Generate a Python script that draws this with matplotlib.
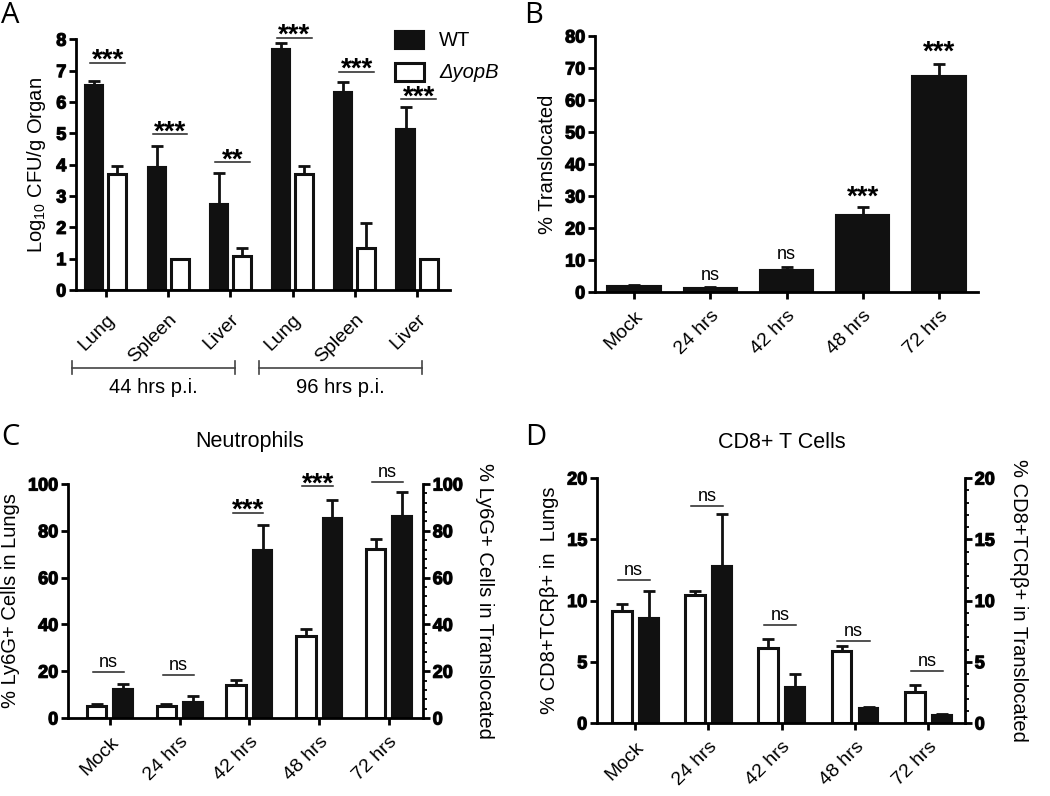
import matplotlib
matplotlib.use("Agg")
import matplotlib.pyplot as plt
import matplotlib.transforms as mtrans
import matplotlib.patheffects as pe
from matplotlib.patches import Patch
from matplotlib.ticker import MultipleLocator
from matplotlib import font_manager as fm
import numpy as np

plt.rcParams['font.family'] = ['Liberation Sans', 'DejaVu Sans']
plt.rcParams['mathtext.fontset'] = 'custom'
plt.rcParams['mathtext.rm'] = 'Liberation Sans'
plt.rcParams['mathtext.it'] = 'Liberation Sans:italic'

# pick a family that really has a bold face for the tick numbers
BOLD_FAMILY = 'DejaVu Sans'
for fam in ['Liberation Sans', 'Roboto', 'Noto Sans', 'Open Sans', 'Lato']:
    try:
        path = fm.findfont(fm.FontProperties(family=fam, weight='bold'),
                           fallback_to_default=False)
        name = path.lower()
        if fam.split()[0].lower() in name and 'bold' in name:
            BOLD_FAMILY = fam
            break
    except Exception:
        pass

# ---------------- Data ----------------
# Panel A
organs = ['Lung', 'Spleen', 'Liver', 'Lung', 'Spleen', 'Liver']
wt_mean = [6.55, 3.93, 2.75, 7.70, 6.33, 5.15]
wt_err = [0.13, 0.67, 0.97, 0.17, 0.32, 0.70]
yopb_mean = [3.70, 1.00, 1.10, 3.70, 1.33, 1.00]
yopb_err = [0.27, 0.00, 0.25, 0.27, 0.82, 0.00]
sig_a = ['***', '***', '**', '***', '***', '***']
sig_a_y = [7.25, 4.97, 4.07, 8.05, 6.97, 6.08]
groups_a = ['44 hrs p.i.', '96 hrs p.i.']

# Panel B
times = ['Mock', '24 hrs', '42 hrs', '48 hrs', '72 hrs']
trans_b = [1.8, 1.3, 7.0, 24.0, 67.5]
trans_b_err = [0.5, 0.3, 0.8, 2.6, 3.9]
sig_b = ['', 'ns', 'ns', '***', '***']
sig_b_y = [0, 5.3, 11.9, 30.6, 75.8]

# Panel C
lung_c = [5.3, 5.3, 14.0, 35.2, 72.2]
lung_c_err = [0.7, 0.7, 2.4, 2.8, 4.3]
trans_c = [12.4, 6.7, 71.7, 85.6, 86.5]
trans_c_err = [2.1, 2.8, 10.6, 7.7, 9.9]
sig_c = ['ns', 'ns', '***', '***', 'ns']
sig_c_y = [19.5, 18.4, 87.6, 99.0, 101.0]

# Panel D
lung_d = [9.17, 10.42, 6.12, 5.85, 2.50]
lung_d_err = [0.57, 0.33, 0.74, 0.41, 0.63]
trans_d = [8.57, 12.80, 2.94, 1.22, 0.68]
trans_d_err = [2.23, 4.30, 1.06, 0.06, 0.04]
sig_d = ['ns', 'ns', 'ns', 'ns', 'ns']
sig_d_y = [11.65, 17.74, 7.97, 6.72, 4.27]

# ---------------- Style ----------------
BLACK = '#111111'
LW = 2.0
TICK_FS = 13
LAB_FS = 14.5
XT_FS = 14
AST_FS = 20
NS_FS = 13
HEAVY = [pe.withStroke(linewidth=0.9, foreground=BLACK)]

fig = plt.figure(figsize=(10.5, 7.96), dpi=100)


def set_yt(ax, ticks):
    ax.set_yticks(ticks, labels=[f'{t:g}' for t in ticks],
                  fontweight='bold', fontsize=TICK_FS, family=BOLD_FAMILY,
                  path_effects=HEAVY)


def style_axis(ax):
    ax.spines['top'].set_visible(False)
    ax.spines['right'].set_visible(False)
    for s in ['left', 'bottom']:
        ax.spines[s].set_linewidth(LW)
    ax.tick_params(axis='both', direction='out', width=LW, length=5)
    ax.tick_params(axis='y', pad=2)


def errbars(ax, x, y, e):
    x = np.asarray(x, float); y = np.asarray(y, float); e = np.asarray(e, float)
    m = e > 0
    ax.errorbar(x[m], y[m], yerr=[np.zeros(m.sum()), e[m]], fmt='none',
                ecolor=BLACK, elinewidth=2.0, capsize=4.0, capthick=2.0,
                zorder=1)


def xlabels(ax, labels, pad=6):
    ax.set_xticks(np.arange(len(labels)))
    ax.set_xticklabels(labels, rotation=45, ha='right', va='top',
                       rotation_mode='anchor', fontsize=XT_FS)
    ax.tick_params(axis='x', pad=pad)


def put_text(ax, x, y, txt, extra=0.0):
    """Place text so that its ink centre sits `extra` points above y."""
    if txt.startswith('*'):
        off = extra - 0.367 * AST_FS
        kw = dict(fontsize=AST_FS, fontweight='bold')
    else:
        off = extra - 0.26 * NS_FS
        kw = dict(fontsize=NS_FS)
    ax.annotate(txt, (x, y), xytext=(0, off), textcoords='offset points',
                ha='center', va='baseline', annotation_clip=False, **kw)


def sig(ax, x, y, txt, half=0.23, shift=0.0):
    ax.plot([x - half + shift, x + half + shift], [y, y], color='#222222',
            lw=1.1, clip_on=False, zorder=4)
    put_text(ax, x + shift, y, txt, extra=3.8 if txt.startswith('*') else 7.0)


# ---------------- Panel A ----------------
axA = fig.add_axes([76/1050, 1-290/796, (450-76)/1050, (290-39.3)/796])
xa = np.arange(len(organs))
wA, offA = 0.29, 0.185
axA.bar(xa - offA, wt_mean, width=wA, color=BLACK, edgecolor=BLACK,
        linewidth=1.5, zorder=2)
axA.bar(xa + offA, yopb_mean, width=wA, color='white', edgecolor=BLACK,
        linewidth=2.2, zorder=2)
errbars(axA, xa - offA, wt_mean, wt_err)
errbars(axA, xa + offA, yopb_mean, yopb_err)
axA.set_xlim(-0.48, 5.53)
axA.set_ylim(0, 8)
style_axis(axA)
set_yt(axA, list(range(0, 9)))
xlabels(axA, organs, pad=10)
axA.set_ylabel('Log$_{10}$ CFU/g Organ', fontsize=LAB_FS, labelpad=6)
for i in range(len(organs)):
    sig(axA, xa[i], sig_a_y[i], sig_a[i], half=0.28, shift=0.03)
leg = axA.legend(handles=[Patch(facecolor=BLACK, edgecolor=BLACK, linewidth=1.5),
                          Patch(facecolor='white', edgecolor=BLACK, linewidth=2.2)],
                 labels=['WT', 'ΔyopB'], loc='upper left',
                 bbox_to_anchor=(0.853, 1.035), frameon=False, fontsize=LAB_FS,
                 handlelength=1.45, handleheight=1.0, handletextpad=0.75,
                 labelspacing=0.6, borderpad=0, borderaxespad=0)
leg.get_texts()[1].set_style('italic')
# group brackets
tr = mtrans.blended_transform_factory(axA.transData, axA.transAxes)
brackets = [(-0.55, 2.07), (2.46, 5.08)]
for (x0, x1), g in zip(brackets, groups_a):
    axA.plot([x0, x1], [-0.311, -0.311], color='#444444', lw=1.2,
             transform=tr, clip_on=False)
    for xx in (x0, x1):
        axA.plot([xx, xx], [-0.285, -0.337], color='#444444', lw=1.2,
                 transform=tr, clip_on=False)
    axA.text((x0 + x1) / 2, -0.39, g, transform=tr, ha='center',
             va='center', fontsize=LAB_FS)

# ---------------- Panel B ----------------
axB = fig.add_axes([595/1050, 1-292/796, (978-595)/1050, (292-36)/796])
xb = np.arange(len(times))
axB.bar(xb, trans_b, width=0.7, color=BLACK, edgecolor=BLACK, linewidth=1.5,
        zorder=2)
errbars(axB, xb, trans_b, trans_b_err)
axB.set_xlim(-0.51, 4.51)
axB.set_ylim(0, 80)
style_axis(axB)
set_yt(axB, list(range(0, 81, 10)))
xlabels(axB, times)
axB.set_ylabel('% Translocated', fontsize=LAB_FS, labelpad=6)
for i in range(len(times)):
    if sig_b[i]:
        put_text(axB, xb[i], sig_b_y[i], sig_b[i])


# ---------------- Panels C & D ----------------
def dual_panel(rect, xlim, ylim, ystep, minor, lung, lung_e, tr_, tr_e,
               sigs, sig_y, ylab_l, ylab_r, w, off, rpad):
    ax = fig.add_axes(rect)
    x = np.arange(len(times))
    ax.bar(x - off, lung, width=w, color='white', edgecolor=BLACK,
           linewidth=2.2, zorder=2)
    ax.bar(x + off, tr_, width=w, color=BLACK, edgecolor=BLACK,
           linewidth=1.5, zorder=2)
    errbars(ax, x - off, lung, lung_e)
    errbars(ax, x + off, tr_, tr_e)
    ax.set_xlim(*xlim)
    ax.set_ylim(*ylim)
    ticks = list(np.arange(ylim[0], ylim[1] + 0.1, ystep))
    style_axis(ax)
    set_yt(ax, ticks)
    xlabels(ax, times)
    ax.set_ylabel(ylab_l, fontsize=LAB_FS, labelpad=6)
    ax2 = ax.twinx()
    ax2.set_ylim(*ylim)
    set_yt(ax2, ticks)
    ax2.yaxis.set_minor_locator(MultipleLocator(minor))
    for s in ['top', 'left', 'bottom']:
        ax2.spines[s].set_visible(False)
    ax2.spines['right'].set_linewidth(LW)
    ax2.tick_params(axis='y', which='major', direction='out', width=LW,
                    length=5, pad=2)
    ax2.tick_params(axis='y', which='minor', direction='out', width=1.3,
                    length=3)
    ax2.set_ylabel(ylab_r, fontsize=LAB_FS, rotation=270, labelpad=rpad)
    for i in range(len(times)):
        sig(ax, x[i], sig_y[i], sigs[i], half=0.22, shift=-0.02)
    return ax


axC = dual_panel([68/1050, 1-718/796, (423-68)/1050, (718-484)/796],
                 (-0.6, 4.49), (0, 100), 20, 4, lung_c, lung_c_err,
                 trans_c, trans_c_err, sig_c, sig_c_y,
                 '% Ly6G+ Cells in Lungs', '% Ly6G+ Cells in Translocated',
                 0.28, 0.19, 22)
axD = dual_panel([597/1050, 1-723/796, (965-597)/1050, (723-478)/796],
                 (-0.52, 4.5), (0, 20), 5, 1, lung_d, lung_d_err,
                 trans_d, trans_d_err, sig_d, sig_d_y,
                 '% CD8+TCRβ+ in  Lungs', '% CD8+TCRβ+ in Translocated',
                 0.27, 0.184, 24)

# titles
fig.text(250/1050, 1-442/796, 'Neutrophils', fontsize=15.5, ha='center',
         va='center')
fig.text(782/1050, 1-443/796, 'CD8+ T Cells', fontsize=15.5, ha='center',
         va='center')

# Panel letters
for lx, ly, L in [(1, 1, 'A'), (524, 1, 'B'), (1, 423, 'C'), (525, 423, 'D')]:
    fig.text(lx/1050, 1-ly/796, L, fontsize=21, family='Open Sans',
             va='top', ha='left')

fig.savefig('out.png', dpi=100)
